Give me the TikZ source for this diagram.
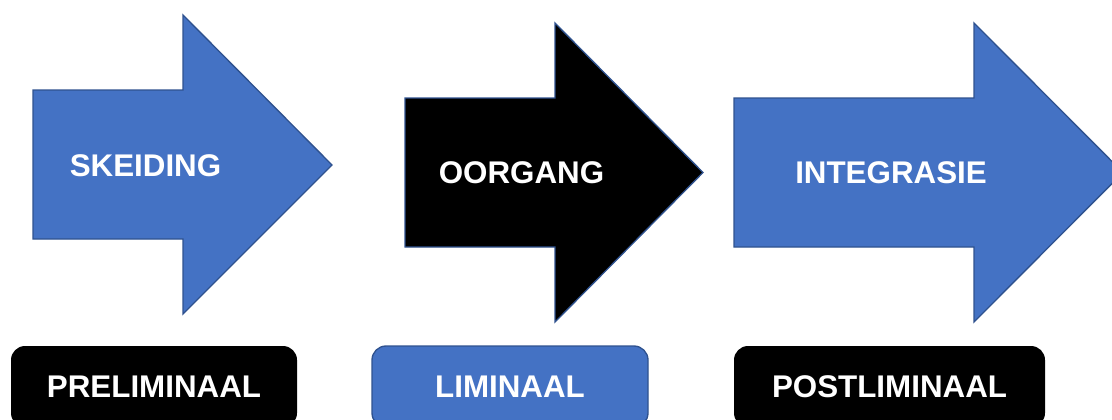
\documentclass[tikz,border=0pt]{standalone}
\usepackage{fontspec}
\setmainfont{Liberation Sans}
\usetikzlibrary{positioning}
\definecolor{officeblue}{HTML}{4472C4}
\definecolor{edgeblue}{HTML}{2F528F}

\begin{document}
\begin{tikzpicture}[x=0.75pt, y=-0.75pt, line join=miter,
	shaft/.style={draw=edgeblue, line width=1pt},
	label/.style={text=white, font=\fontsize{23.5}{28}\selectfont\bfseries, inner sep=0pt},
	stage/.style={rounded corners=10.5pt, minimum height=60.75pt, text=white, font=\fontsize{23.5}{28}\selectfont\bfseries}]
	\useasboundingbox (0,0) rectangle (1112,419);
	% arrows
	\path[shaft, fill=officeblue] (33,90) -- (183,90) -- (183,15) -- (332,165) -- (183,314) -- (183,239) -- (33,239) -- cycle;
	\path[shaft, fill=black] (405,98) -- (555,98) -- (555,23) -- (703,172.5) -- (555,322) -- (555,247) -- (405,247) -- cycle;
	\path[shaft, fill=officeblue] (734,98) -- (974,98) -- (974,23) -- (1123,172.5) -- (974,322) -- (974,247) -- (734,247) -- cycle;
	\node[label] (skeiding) at (145.5,166) {SKEIDING};
	\node[label] (oorgang) at (521.5,172.5) {OORGANG};
	\node[label] (integrasie) at (891,172.5) {INTEGRASIE};
	% stages
	\node[stage, fill=black, minimum width=214.5pt] (pre) at (154,386.5) {PRELIMINAAL};
	\node[stage, fill=officeblue, draw=edgeblue, line width=1pt, minimum width=207pt] (lim) at (510,386.5) {LIMINAAL};
	\node[stage, fill=black, minimum width=233.25pt] (post) at (889.5,386.5) {POSTLIMINAAL};
\end{tikzpicture}
\end{document}
